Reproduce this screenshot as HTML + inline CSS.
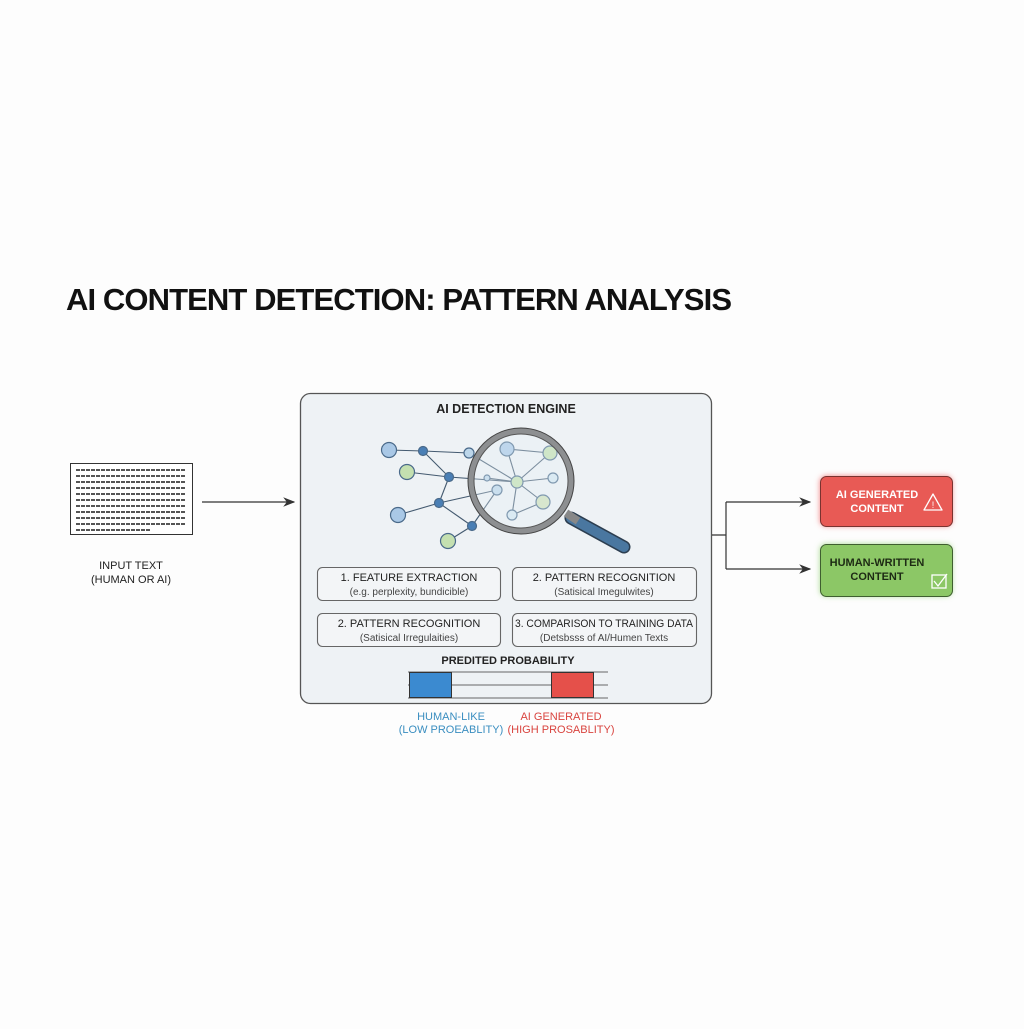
<!DOCTYPE html>
<html><head><meta charset="utf-8"><style>
body{margin:0;background:#fdfdfd;width:1024px;height:1024px;overflow:hidden;font-family:"Liberation Sans",sans-serif}
</style></head><body>
<svg width="1024" height="1024" viewBox="0 0 1024 1024" xmlns="http://www.w3.org/2000/svg" font-family="Liberation Sans, sans-serif">
<defs>
<marker id="ar" markerWidth="10" markerHeight="8" refX="9" refY="4" orient="auto"><path d="M0,0 L10,4 L0,8 L3,4Z" fill="#333"/></marker>
<filter id="gl" x="-20%" y="-40%" width="140%" height="180%"><feGaussianBlur stdDeviation="3"/></filter>
</defs>
<rect width="1024" height="1024" fill="#fdfdfd"/>
<text x="66" y="310" font-size="31" font-weight="bold" fill="#111" textLength="666">AI CONTENT DETECTION: PATTERN ANALYSIS</text>

<!-- input doc -->
<rect x="70.5" y="463.5" width="122" height="71" fill="#fff" stroke="#333"/>
<g stroke="#555" stroke-width="2" stroke-dasharray="4 1">
<line x1="76" y1="470" x2="186" y2="470"/><line x1="76" y1="476" x2="186" y2="476"/><line x1="76" y1="482" x2="186" y2="482"/><line x1="76" y1="488" x2="186" y2="488"/><line x1="76" y1="494" x2="186" y2="494"/><line x1="76" y1="500" x2="186" y2="500"/><line x1="76" y1="506" x2="186" y2="506"/><line x1="76" y1="512" x2="186" y2="512"/><line x1="76" y1="518" x2="186" y2="518"/><line x1="76" y1="524" x2="186" y2="524"/><line x1="76" y1="530" x2="150" y2="530"/>
</g>
<text x="131" y="569" font-size="11" text-anchor="middle" fill="#222">INPUT TEXT</text>
<text x="131" y="583" font-size="11" text-anchor="middle" fill="#222">(HUMAN OR AI)</text>
<line x1="202" y1="502" x2="294" y2="502" stroke="#333" stroke-width="1.2" marker-end="url(#ar)"/>

<!-- engine -->
<rect x="300.5" y="393.5" width="411" height="310" rx="10" fill="#eef2f5" stroke="#555" stroke-width="1.3"/>
<text x="506" y="413" font-size="12.5" font-weight="bold" text-anchor="middle" fill="#222">AI DETECTION ENGINE</text>

<g stroke="#445a70" stroke-width="1.1">
<line x1="389" y1="450" x2="423" y2="451"/><line x1="423" y1="451" x2="469" y2="453"/><line x1="423" y1="451" x2="449" y2="477"/>
<line x1="407" y1="472" x2="449" y2="477"/><line x1="449" y1="477" x2="517" y2="482"/><line x1="449" y1="477" x2="439" y2="503"/>
<line x1="398" y1="515" x2="439" y2="503"/><line x1="439" y1="503" x2="497" y2="490"/><line x1="439" y1="503" x2="472" y2="526"/>
<line x1="448" y1="541" x2="472" y2="526"/><line x1="472" y1="526" x2="497" y2="490"/>
<line x1="469" y1="453" x2="517" y2="482"/><line x1="507" y1="449" x2="517" y2="482"/><line x1="507" y1="449" x2="550" y2="453"/>
<line x1="550" y1="453" x2="517" y2="482"/><line x1="553" y1="478" x2="517" y2="482"/><line x1="543" y1="502" x2="517" y2="482"/>
<line x1="512" y1="515" x2="517" y2="482"/><line x1="487" y1="478" x2="517" y2="482"/><line x1="512" y1="515" x2="543" y2="502"/>
</g>
<g stroke="#4a6a8a" stroke-width="1.2">
<circle cx="389" cy="450" r="7.5" fill="#a9c8e6"/><circle cx="407" cy="472" r="7.5" fill="#c4e0b0"/><circle cx="398" cy="515" r="7.5" fill="#a9c8e6"/><circle cx="448" cy="541" r="7.5" fill="#c4e0b0"/>
<circle cx="423" cy="451" r="4.5" fill="#4a7fb5"/><circle cx="449" cy="477" r="4.5" fill="#4a7fb5"/><circle cx="439" cy="503" r="4.5" fill="#4a7fb5"/><circle cx="472" cy="526" r="4.5" fill="#4a7fb5"/>
<circle cx="469" cy="453" r="5" fill="#bcd6ea"/>
<circle cx="507" cy="449" r="7" fill="#a9c8e6"/><circle cx="550" cy="453" r="7" fill="#c4e0b0"/><circle cx="517" cy="482" r="6" fill="#c4e0b0"/>
<circle cx="487" cy="478" r="3" fill="#bcd6ea"/><circle cx="497" cy="490" r="5" fill="#bcd6ea"/><circle cx="553" cy="478" r="5" fill="#d4e6f2"/>
<circle cx="543" cy="502" r="7" fill="#d0e0b8"/><circle cx="512" cy="515" r="5" fill="#d4e6f2"/>
</g>
<line x1="571" y1="518" x2="624" y2="547" stroke="#2c3e50" stroke-width="13" stroke-linecap="round"/>
<line x1="571" y1="518" x2="624" y2="547" stroke="#4a77a0" stroke-width="10" stroke-linecap="round"/>
<line x1="566" y1="513" x2="578" y2="521" stroke="#888" stroke-width="8"/>
<circle cx="521" cy="481" r="50" fill="#e6f0f6" fill-opacity="0.35" stroke="#8d8f91" stroke-width="6"/>
<circle cx="521" cy="481" r="53" fill="none" stroke="#444" stroke-width="1"/>
<circle cx="521" cy="481" r="47" fill="none" stroke="#555" stroke-width="1"/>

<g fill="#f3f5f7" stroke="#666" stroke-width="1.1">
<rect x="317.5" y="567.5" width="183" height="33" rx="5"/><rect x="512.5" y="567.5" width="184" height="33" rx="5"/>
<rect x="317.5" y="613.5" width="183" height="33" rx="5"/><rect x="512.5" y="613.5" width="184" height="33" rx="5"/>
</g>
<g font-size="11" text-anchor="middle" fill="#222">
<text x="409" y="581">1. FEATURE EXTRACTION</text><text x="604" y="581">2. PATTERN RECOGNITION</text>
<text x="409" y="627">2. PATTERN RECOGNITION</text><text x="604" y="627" textLength="178" lengthAdjust="spacingAndGlyphs">3. COMPARISON TO TRAINING DATA</text>
</g>
<g font-size="10" text-anchor="middle" fill="#444">
<text x="409" y="595">(e.g. perplexity, bundicible)</text><text x="604" y="595">(Satisical Imegulwites)</text>
<text x="409" y="641">(Satisical Irregulaities)</text><text x="604" y="641">(Detsbsss of AI/Humen Texts</text>
</g>
<text x="508" y="664" font-size="11" font-weight="bold" text-anchor="middle" fill="#222">PREDITED PROBABILITY</text>
<g stroke="#666" stroke-width="1"><line x1="408" y1="672" x2="608" y2="672"/><line x1="408" y1="685" x2="608" y2="685"/><line x1="408" y1="698" x2="608" y2="698"/></g>
<rect x="409.5" y="672.5" width="42" height="25" fill="#3b8ad0" stroke="#333"/>
<rect x="551.5" y="672.5" width="42" height="25" fill="#e5504a" stroke="#333"/>
<g font-size="11" text-anchor="middle">
<text x="451" y="720" fill="#3a8ec0">HUMAN-LIKE</text><text x="451" y="733" fill="#3a8ec0">(LOW PROEABLITY)</text>
<text x="561" y="720" fill="#d9443f">AI GENERATED</text><text x="561" y="733" fill="#d9443f">(HIGH PROSABLITY)</text>
</g>

<!-- outputs -->
<path d="M712,535 H726 M726,502 V569" stroke="#333" stroke-width="1.2" fill="none"/>
<line x1="726" y1="502" x2="810" y2="502" stroke="#333" stroke-width="1.2" marker-end="url(#ar)"/>
<line x1="726" y1="569" x2="810" y2="569" stroke="#333" stroke-width="1.2" marker-end="url(#ar)"/>
<rect x="820" y="476" width="132" height="50" rx="6" fill="#f08080" filter="url(#gl)"/>
<rect x="820" y="544" width="132" height="52" rx="6" fill="#a8d890" filter="url(#gl)"/>
<rect x="820.5" y="476.5" width="132" height="50" rx="6" fill="#e85a55" stroke="#7a3330"/>
<rect x="820.5" y="544.5" width="132" height="52" rx="6" fill="#8cc766" stroke="#3f5f30"/>
<text x="877" y="498" font-size="11" font-weight="bold" text-anchor="middle" fill="#fff">AI GENERATED</text>
<text x="877" y="512" font-size="11" font-weight="bold" text-anchor="middle" fill="#fff">CONTENT</text>
<path d="M933,494 L942,510 H924 Z" fill="none" stroke="#fff" stroke-width="1.3" stroke-linejoin="round"/>
<text x="933" y="508" font-size="9" text-anchor="middle" fill="#fff">!</text>
<text x="877" y="566" font-size="11" font-weight="bold" text-anchor="middle" fill="#1d2a14">HUMAN-WRITTEN</text>
<text x="877" y="580" font-size="11" font-weight="bold" text-anchor="middle" fill="#1d2a14">CONTENT</text>
<rect x="932" y="575" width="14" height="13" fill="none" stroke="#fff" stroke-width="1.3"/>
<path d="M934,581 L938,586 L947,574" fill="none" stroke="#fff" stroke-width="1.3"/>
</svg>
</body></html>
